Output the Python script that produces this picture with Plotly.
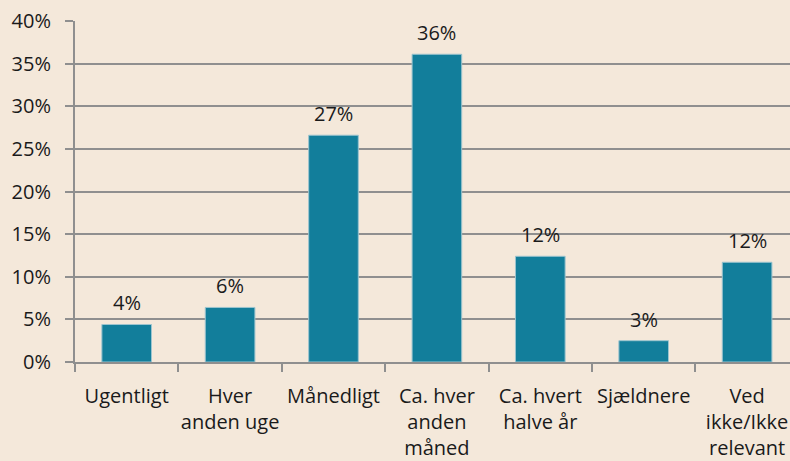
import plotly.graph_objects as go

categories = ["Ugentligt", "Hver<br>anden uge", "Månedligt", "Ca. hver<br>anden<br>måned",
              "Ca. hvert<br>halve år", "Sjældnere", "Ved<br>ikke/Ikke<br>relevant"]
values = [0.044, 0.064, 0.266, 0.361, 0.124, 0.025, 0.117]
y_ticks = [0, 0.05, 0.10, 0.15, 0.20, 0.25, 0.30, 0.35, 0.40]

BG = "#F4E8DA"
BAR = "#127E9B"
GRID = "#8F8F8F"
FONT = "Open Sans"
FS = 20

fig = go.Figure(go.Bar(
    x=categories, y=values,
    marker=dict(color=BAR, line=dict(color="#9CC4CF", width=1)),
))

for c, v in zip(categories, values):
    fig.add_annotation(x=c, y=v, text=f"{round(v * 100 + 1e-9):.0f}%", showarrow=False,
                       yanchor="bottom", yshift=6,
                       font=dict(family=FONT, size=FS, color="#1a1a1a"))

fig.update_layout(
    width=790, height=461,
    paper_bgcolor=BG, plot_bgcolor=BG,
    margin=dict(l=75, r=0, t=21, b=99),
    bargap=0.52,
    showlegend=False,
    font=dict(family=FONT, size=FS, color="#1a1a1a"),
)
fig.update_xaxes(
    type="category", range=[-0.5, 6.415], automargin=False, tickangle=0,
    showline=True, linecolor=GRID, linewidth=2,
    ticks="outside", tickson="boundaries", ticklen=8, tickcolor=GRID, tickwidth=2,
    ticklabelstandoff=15,
    showgrid=False, tickfont=dict(family=FONT, size=FS),
)
fig.update_yaxes(
    range=[0, 0.40], tickvals=y_ticks, tickformat=".0%", automargin=False,
    showline=True, linecolor=GRID, linewidth=2,
    ticks="outside", ticklen=8, tickcolor=GRID, tickwidth=2,
    ticklabelstandoff=10,
    showgrid=True, gridcolor=GRID, gridwidth=2,
    zeroline=False, tickfont=dict(family=FONT, size=FS),
)

fig.write_html("out.html", config={"displayModeBar": False},
               post_script="document.body.style.margin='0';")
